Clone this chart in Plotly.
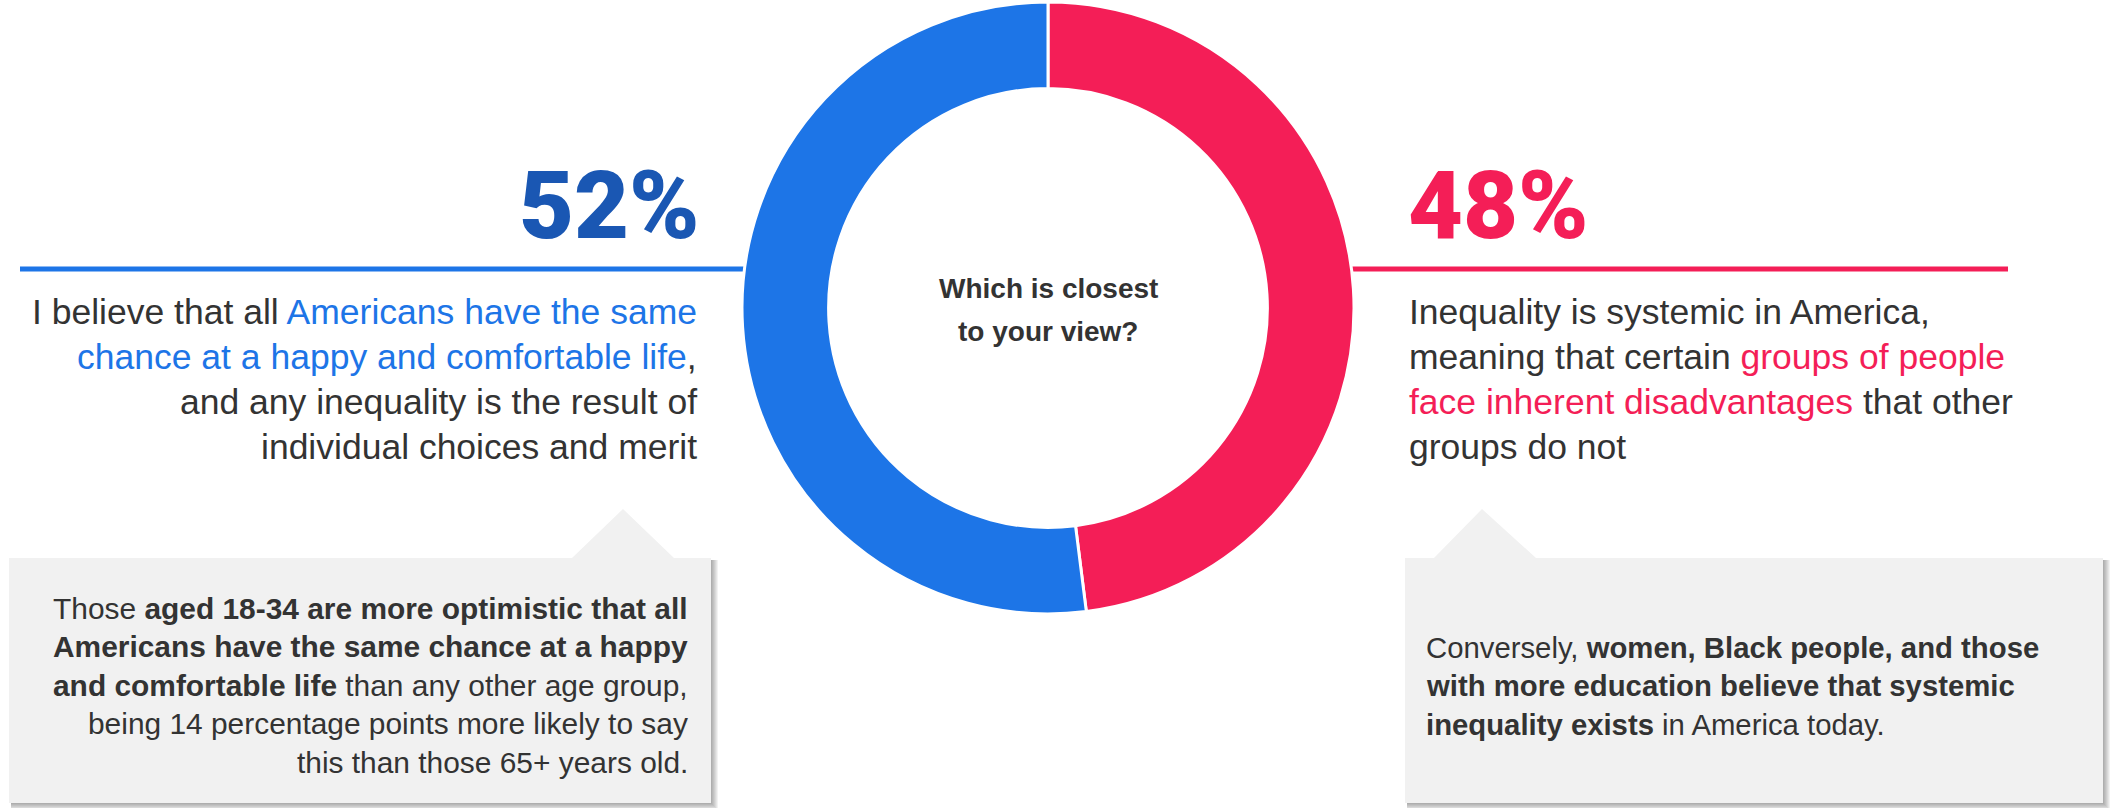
import plotly.graph_objects as go

W, H = 2110, 808

# ---- data ----
labels = ["Inequality is systemic", "Same chance for all Americans"]
values = [48, 52]
colors = ["#f41e57", "#1d75e7"]
pct_colors = ["#f41e57", "#1a57b3"]
center_question = ["Which is closest", "to your view?"]

left_lines = [
    'I believe that all <span style="color:#1d75e7">Americans have the same</span>',
    '<span style="color:#1d75e7">chance at a happy and comfortable life</span>,',
    'and any inequality is the result of',
    'individual choices and merit',
]
right_lines = [
    'Inequality is systemic in America,',
    'meaning that certain <span style="color:#f41e57">groups of people</span>',
    '<span style="color:#f41e57">face inherent disadvantages</span> that other',
    'groups do not',
]
left_note = [
    'Those <b>aged 18-34 are more optimistic that all</b>',
    '<b>Americans have the same chance at a happy</b>',
    '<b>and comfortable life</b> than any other age group,',
    'being 14 percentage points more likely to say',
    'this than those 65+ years old.',
]
right_note = [
    'Conversely, <b>women, Black people, and those</b>',
    '<b>with more education believe that systemic</b>',
    '<b>inequality exists</b> in America today.',
]

FONT = "Liberation Sans, Arial, sans-serif"
PCT_FONT = "Roboto, Liberation Sans, sans-serif"
TXT = "#333333"


def px(x):
    return x / W


def py(y):
    return 1 - y / H


fig = go.Figure()
cx, cy, R = 1048, 308, 306
fig.add_trace(go.Pie(
    labels=labels, values=values, hole=0.717, sort=False, direction="clockwise",
    rotation=0, marker=dict(colors=colors, line=dict(color="white", width=3)),
    textinfo="none", showlegend=False,
    domain=dict(x=[px(cx - R), px(cx + R)], y=[py(cy + R), py(cy - R)]),
))

shapes = []
# horizontal rules
shapes.append(dict(type="line", xref="paper", yref="paper", x0=px(20), x1=px(750),
                   y0=py(269), y1=py(269), line=dict(color=colors[1], width=5), layer="below"))
shapes.append(dict(type="line", xref="paper", yref="paper", x0=px(1346), x1=px(2008),
                   y0=py(269), y1=py(269), line=dict(color=colors[0], width=5), layer="below"))


def callout(x0, x1, y0, y1, tb0, tapex, tb1, apex_y):
    pts = [(x0, y0), (tb0, y0), (tapex, apex_y), (tb1, y0), (x1, y0), (x1, y1), (x0, y1)]
    return "M " + " L ".join(f"{px(a):.5f},{py(b):.5f}" for a, b in pts) + " Z"


for (x0, x1, y0, y1, a, b, c, ay) in [(9, 711, 558, 803, 572, 623, 674, 509),
                                       (1405, 2103, 558, 803, 1434, 1482, 1536, 509)]:
    for i in range(7, 0, -1):
        shapes.append(dict(type="rect", xref="paper", yref="paper",
                           x0=px(x0 + 2), x1=px(x1 + i), y0=py(y0 + 2), y1=py(y1 + i),
                           fillcolor="rgba(0,0,0,0.05)", line=dict(width=0), layer="below"))
    shapes.append(dict(type="path", xref="paper", yref="paper", path=callout(x0, x1, y0, y1, a, b, c, ay),
                       fillcolor="#f1f1f1", line=dict(width=0), layer="below"))

ann = []
ann.append(dict(x=px(702), y=py(205), text=f"{values[1]}%", xanchor="right", yanchor="middle",
                font=dict(family=PCT_FONT, size=95, weight=900, color=pct_colors[1])))
ann.append(dict(x=px(1406), y=py(205), text=f"{values[0]}%", xanchor="left", yanchor="middle",
                font=dict(family=PCT_FONT, size=95, weight=900, color=pct_colors[0])))

for i, t in enumerate(center_question):
    ann.append(dict(x=px(cx), y=py(288 + 43 * i), text=f"<b>{t}</b>", xanchor="center", yanchor="middle",
                    font=dict(family=FONT, size=28, color=TXT)))

body_y = [312, 357, 402, 447]
for t, y in zip(left_lines, body_y):
    ann.append(dict(x=px(699), y=py(y), text=t, xanchor="right", yanchor="middle",
                    font=dict(family=FONT, size=35.5, color=TXT)))
for t, y in zip(right_lines, body_y):
    ann.append(dict(x=px(1407), y=py(y), text=t, xanchor="left", yanchor="middle",
                    font=dict(family=FONT, size=35.5, color=TXT)))

for i, t in enumerate(left_note):
    ann.append(dict(x=px(690), y=py(608 + 38.5 * i), text=t, xanchor="right", yanchor="middle",
                    font=dict(family=FONT, size=29.9, color=TXT)))
for i, t in enumerate(right_note):
    ann.append(dict(x=px(1424), y=py(647 + 38.5 * i), text=t, xanchor="left", yanchor="middle",
                    font=dict(family=FONT, size=29.3, color=TXT)))

for a in ann:
    a.update(xref="paper", yref="paper", showarrow=False)

fig.update_layout(width=W, height=H, margin=dict(l=0, r=0, t=0, b=0),
                  paper_bgcolor="white", plot_bgcolor="white",
                  shapes=shapes, annotations=ann)
fig.write_html("out.html", config={"displayModeBar": False},
               post_script="document.body.style.margin='0px';")
